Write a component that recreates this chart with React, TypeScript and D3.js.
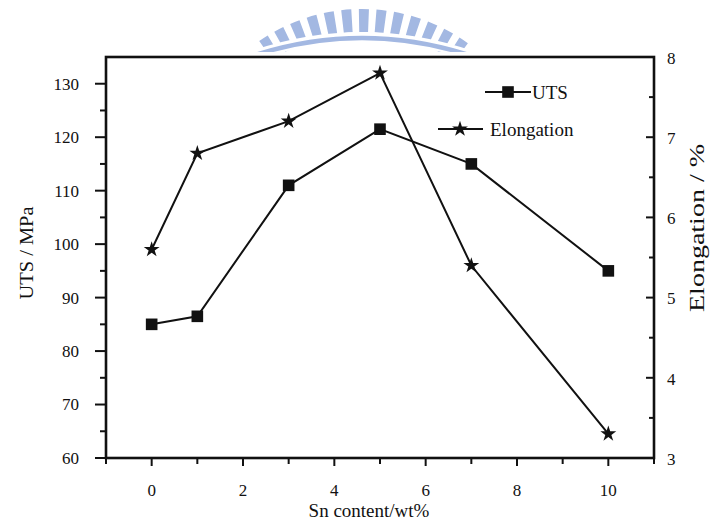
import React from "react";
import * as d3 from "d3";

// Sn content (wt%) of the alloys
const snContent = [0, 1, 3, 5, 7, 10];
// Ultimate tensile strength, MPa
const utsValues = [85, 86.5, 111, 121.5, 115, 95];
// Elongation, %
const elongationValues = [5.6, 6.8, 7.2, 7.8, 5.4, 3.3];

const xTickLabels = [0, 2, 4, 6, 8, 10];
const utsTickLabels = [60, 70, 80, 90, 100, 110, 120, 130];
const elongTickLabels = [3, 4, 5, 6, 7, 8];

const W = 716;
const H = 526;
const FONT = "'Liberation Serif', 'DejaVu Serif', serif";
const INK = "#111";
const LOGO = "#a3b8e2";

export default function App() {
  const left = 106, right = 654, top = 57, bottom = 458;

  const x = d3.scaleLinear().domain([-1, 11]).range([left, right]);
  const yL = d3.scaleLinear().domain([60, 135]).range([bottom, top]);
  const yR = d3.scaleLinear().domain([3, 8]).range([bottom, top]);

  const utsPts = snContent.map((s, i) => [x(s), yL(utsValues[i])] as [number, number]);
  const elPts = snContent.map((s, i) => [x(s), yR(elongationValues[i])] as [number, number]);
  const line = d3.line();

  const square = d3.symbol(d3.symbolSquare, 135)()!;
  const star = d3.symbol(d3.symbolStar, 78)()!;

  // minor/major ticks
  const xMinor = d3.range(-1, 12, 1);
  const yLMinor = d3.range(60, 135, 5);
  const yRMinor = d3.range(3, 8.01, 0.5);

  // radial bars of the emblem at the top
  const cx = 362, cy = 190;
  const barAngles = d3.range(-33, 35, 5.6);
  const bar = d3.arc();

  return (
    <svg
      width={W}
      height={H}
      viewBox={`0 0 ${W} ${H}`}
      style={{ position: "absolute", left: 0, top: 0, background: "#fff" }}
    >
      <defs>
        <clipPath id="logoClip">
          <rect x={0} y={0} width={W} height={52} />
        </clipPath>
      </defs>

      {/* emblem */}
      <g clipPath="url(#logoClip)">
        {barAngles.map((a, i) => {
          const half = 1.6;
          const d = bar({
            startAngle: ((a - half) * Math.PI) / 180,
            endAngle: ((a + half) * Math.PI) / 180,
            innerRadius: 158,
            outerRadius: 181,
          } as any) as string;
          return <path key={i} d={d} transform={`translate(${cx},${cy})`} fill={LOGO} />;
        })}
        <path d="M252,56 Q362,18 472,56" fill="none" stroke="#fff" strokeWidth={10} />
        <path d="M252,56 Q362,20 472,56" fill="none" stroke={LOGO} strokeWidth={4.5} />
      </g>

      {/* frame */}
      <rect
        x={left}
        y={top}
        width={right - left}
        height={bottom - top}
        fill="none"
        stroke={INK}
        strokeWidth={2.6}
      />

      {/* bottom axis ticks */}
      {xMinor.map((v) => (
        <line
          key={`xt${v}`}
          x1={x(v)}
          x2={x(v)}
          y1={bottom}
          y2={bottom + (v % 2 === 0 ? 8 : 6)}
          stroke={INK}
          strokeWidth={2}
        />
      ))}
      {xTickLabels.map((v) => (
        <text
          key={`xl${v}`}
          x={x(v)}
          y={bottom + 38}
          textAnchor="middle"
          fontFamily={FONT}
          fontSize={17}
          fill={INK}
        >
          {v}
        </text>
      ))}
      <text
        x={369}
        y={517}
        textAnchor="middle"
        fontFamily={FONT}
        fontSize={19}
        fill={INK}
      >
        Sn content/wt%
      </text>

      {/* left axis */}
      {yLMinor.map((v) => (
        <line
          key={`yl${v}`}
          x1={left}
          x2={left - (v % 10 === 0 ? 11 : 6)}
          y1={yL(v)}
          y2={yL(v)}
          stroke={INK}
          strokeWidth={2}
        />
      ))}
      {utsTickLabels.map((v) => (
        <text
          key={`yll${v}`}
          x={left - 27}
          y={yL(v)}
          dy="0.35em"
          textAnchor="end"
          fontFamily={FONT}
          fontSize={17}
          fill={INK}
        >
          {v}
        </text>
      ))}
      <text
        transform={`translate(33,253) rotate(-90)`}
        textAnchor="middle"
        fontFamily={FONT}
        fontSize={19}
        fill={INK}
        textLength={93}
        lengthAdjust="spacingAndGlyphs"
      >
        UTS / MPa
      </text>

      {/* right axis */}
      {yRMinor.map((v) => (
        <line
          key={`yr${v}`}
          x1={right}
          x2={right - (Number.isInteger(v) ? 8 : 5)}
          y1={yR(v)}
          y2={yR(v)}
          stroke={INK}
          strokeWidth={2}
        />
      ))}
      {elongTickLabels.map((v) => (
        <text
          key={`yrl${v}`}
          x={right + 13}
          y={yR(v)}
          dy="0.4em"
          textAnchor="start"
          fontFamily={FONT}
          fontSize={17}
          fill={INK}
        >
          {v}
        </text>
      ))}
      <text
        transform={`translate(704,228) rotate(-90)`}
        textAnchor="middle"
        fontFamily={FONT}
        fontSize={21}
        fill={INK}
        textLength={168}
        lengthAdjust="spacingAndGlyphs"
      >
        Elongation / %
      </text>

      {/* series lines */}
      <path d={line(utsPts)!} fill="none" stroke={INK} strokeWidth={2} />
      <path d={line(elPts)!} fill="none" stroke={INK} strokeWidth={2} />

      {/* markers */}
      {utsPts.map(([px, py], i) => (
        <path key={`sq${i}`} d={square} transform={`translate(${px},${py})`} fill={INK} />
      ))}
      {elPts.map(([px, py], i) => (
        <path key={`st${i}`} d={star} transform={`translate(${px},${py})`} fill={INK} />
      ))}

      {/* legend */}
      <g>
        <line x1={485} x2={531} y1={92} y2={92} stroke={INK} strokeWidth={2} />
        <path d={square} transform="translate(508,92)" fill={INK} />
        <text x={532} y={92} dy="0.35em" fontFamily={FONT} fontSize={19} fill={INK}>
          UTS
        </text>
        <line x1={438} x2={483} y1={129} y2={129} stroke={INK} strokeWidth={2} />
        <path d={star} transform="translate(460,129)" fill={INK} />
        <text x={490} y={129} dy="0.35em" fontFamily={FONT} fontSize={19} fill={INK}>
          Elongation
        </text>
      </g>
    </svg>
  );
}
